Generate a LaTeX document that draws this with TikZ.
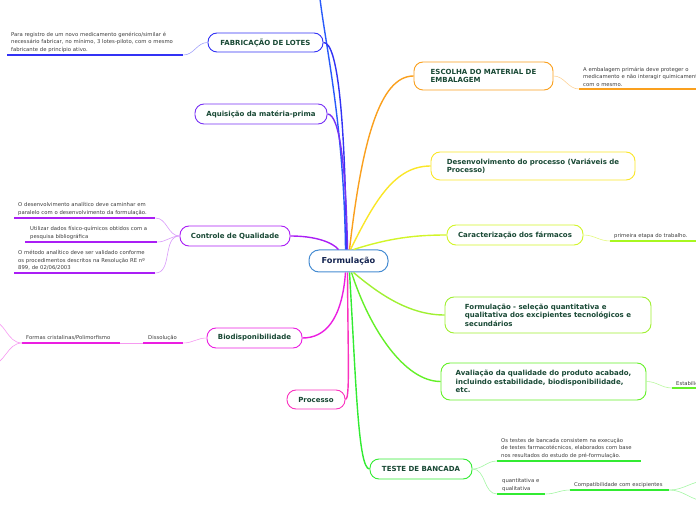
\documentclass[tikz,border=0pt]{standalone}
\usepackage{fontspec}
\setmainfont{DejaVu Sans}
\usetikzlibrary{calc}

\definecolor{txtgreen}{RGB}{24,72,52}
\definecolor{txtnavy}{RGB}{20,36,80}
\definecolor{notegray}{RGB}{60,60,60}
\definecolor{croot}{RGB}{70,140,210}
\definecolor{ctop}{RGB}{40,90,250}
\definecolor{cfab}{RGB}{50,50,245}
\definecolor{caqui}{RGB}{120,50,245}
\definecolor{ccontr}{RGB}{170,30,245}
\definecolor{cbio}{RGB}{235,30,225}
\definecolor{cproc}{RGB}{250,50,190}
\definecolor{cesc}{RGB}{250,160,30}
\definecolor{cdesen}{RGB}{250,230,40}
\definecolor{ccarac}{RGB}{210,245,40}
\definecolor{cselec}{RGB}{160,240,50}
\definecolor{caval}{RGB}{100,240,40}
\definecolor{cteste}{RGB}{50,235,50}

\begin{document}
\begin{tikzpicture}[
    x=1pt, y=1pt,
    topic/.style={draw, line width=0.9pt, rounded corners=9pt, fill=white, text=txtgreen,
        font=\bfseries\fontsize{7}{8.5}\selectfont, align=left, inner sep=0pt},
    root/.style={draw=croot, line width=1pt, rounded corners=10pt, fill=white, text=txtnavy,
        font=\bfseries\fontsize{8.2}{10}\selectfont, minimum width=79pt, minimum height=22pt, inner sep=0pt},
    note/.style={text=notegray, font=\fontsize{5.3}{7.5}\selectfont, align=left,
        inner xsep=4pt, inner ysep=2.5pt, anchor=south west},
    link/.style={line width=1.4pt},
    twig/.style={line width=0.6pt},
    ul/.style={line width=1.4pt}
]
\useasboundingbox (0,0) rectangle (696,520);
\clip (0,0) rectangle (696,520);

% central topic
\node[root] (formula) at (348.5,259) {Formulação};

% main topics, left side
\node[topic, draw=cfab, minimum width=115pt, minimum height=19pt] (fab) at (265.5,477.5) {FABRICAÇÃO DE LOTES};
\node[topic, draw=caqui, minimum width=132pt, minimum height=20pt] (aqui) at (261,406) {Aquisição da matéria-prima};
\node[topic, draw=ccontr, minimum width=110pt, minimum height=20pt] (contr) at (235,284) {Controle de Qualidade};
\node[topic, draw=cbio, minimum width=95pt, minimum height=20pt] (bio) at (254.5,182) {Biodisponibilidade};
\node[topic, draw=cproc, minimum width=58pt, minimum height=19pt] (proc) at (316,120.5) {Processo};

% main topics, right side
\node[topic, draw=cesc, minimum width=139pt, minimum height=28pt] (esc) at (483.5,444) {ESCOLHA DO MATERIAL DE\\EMBALAGEM};
\node[topic, draw=cdesen, minimum width=204pt, minimum height=28pt] (desen) at (533,354) {Desenvolvimento do processo (Variáveis de\\Processo)};
\node[topic, draw=ccarac, minimum width=136pt, minimum height=20pt] (carac) at (515,285) {Caracterização dos fármacos};
\node[topic, draw=cselec, minimum width=206pt, minimum height=36pt] (selec) at (548,205) {Formulação - seleção quantitativa e\\qualitativa dos excipientes tecnológicos e\\secundários};
\node[topic, draw=caval, minimum width=205pt, minimum height=37pt] (aval) at (543.5,138.5) {Avaliação da qualidade do produto acabado,\\incluindo estabilidade, biodisponibilidade,\\etc.};
\node[topic, draw=cteste, minimum width=102pt, minimum height=20pt] (teste) at (421,51) {TESTE DE BANCADA};

% notes
\node[note, text width=168pt] (nfab) at (7,465) {Para registro de um novo medicamento genérico/similar é\\necessário fabricar, no mínimo, 3 lotes-piloto, com o mesmo\\fabricante de princípio ativo.};
\node[note, text width=150pt] (nesc) at (579,431) {A embalagem primária deve proteger o\\medicamento e não interagir quimicamente\\com o mesmo.};
\node[note, text width=92pt] (ncar) at (610,279) {primeira etapa do trabalho.};
\node[note, text width=52pt] (naval) at (672,132) {Estabilidade};
\node[note, text width=133pt] (nc1) at (14,302) {O desenvolvimento analítico deve caminhar em\\paralelo com o desenvolvimento da formulação.};
\node[note, text width=122pt, inner xsep=5pt] (nc2) at (25,278) {Utilizar dados físico-químicos obtidos com a\\pesquisa bibliográfica};
\node[note, text width=133pt] (nc3) at (14,247) {O método analítico deve ser validado conforme\\os procedimentos descritos na Resolução RE nº\\899, de 02/06/2003};
\node[note, text width=30pt, inner xsep=5pt] (ndis) at (143,177) {Dissolução};
\node[note, text width=90pt] (nfor) at (22,177) {Formas cristalinas/Polimorfismo};
\node[note, text width=136pt] (nt1) at (497,59) {Os testes de bancada consistem na execução\\de testes farmacotécnicos, elaborados com base\\nos resultados do estudo de pré-formulação.};
\node[note, text width=38pt, inner xsep=5pt] (nt2) at (497,26) {quantitativa e\\qualitativa};
\node[note, text width=91pt] (ncomp) at (570,30) {Compatibilidade com excipientes};

% loose ends beyond the border
\coordinate (up) at (319,530);
\coordinate (lo1) at (-10,200);
\coordinate (lo2) at (-10,155);
\coordinate (ro1) at (706,39);
\coordinate (ro2) at (706,19);

% underlines
\draw[ul, cfab] (nfab.south west) -- (nfab.south east);
\draw[ul, cesc] (nesc.south west) -- (nesc.south east);
\draw[ul, ccarac!80!green] (ncar.south west) -- (ncar.south east);
\draw[ul, caval] (naval.south west) -- (naval.south east);
\draw[ul, ccontr] (nc1.south west) -- (nc1.south east);
\draw[ul, ccontr] (nc2.south west) -- (nc2.south east);
\draw[ul, ccontr] (nc3.south west) -- (nc3.south east);
\draw[ul, cbio] (ndis.south west) -- (ndis.south east);
\draw[ul, cbio] (nfor.south west) -- (nfor.south east);
\draw[ul, cteste] (nt1.south west) -- (nt1.south east);
\draw[ul, cteste] (nt2.south west) -- (nt2.south east);
\draw[ul, cteste] (ncomp.south west) -- (ncomp.south east);

% branches from the centre
\draw[link, ctop] ($(formula.north)+(-3,0)$) .. controls (344,400) and (324,480) .. (up);
\draw[link, cfab] ($(formula.north)+(-2,0)$) .. controls (345,400) and (338,478) .. (fab.east);
\draw[link, caqui] ($(formula.north)+(-1,0)$) .. controls (346,350) and (340,406) .. (aqui.east);
\draw[link, ccontr] (contr.east) .. controls (315,284) and (332,278) .. ($(formula.north)+(-10,0)$);
\draw[link, cbio] ($(formula.south)+(-3,0)$) .. controls (342,200) and (325,182) .. (bio.east);
\draw[link, cproc] ($(formula.south)+(-1,0)$) .. controls (348,160) and (350,120.5) .. (proc.east);
\draw[link, cesc] ($(formula.north)+(1,0)$) .. controls (362,380) and (380,444) .. (esc.west);
\draw[link, cdesen] ($(formula.north)+(2,0)$) .. controls (375,320) and (395,354) .. (desen.west);
\draw[link, ccarac] ($(formula.north)+(5,0)$) .. controls (390,282) and (415,285) .. (carac.west);
\draw[link, cselec] ($(formula.south)+(5,0)$) .. controls (380,225) and (410,205) .. (selec.west);
\draw[link, caval] ($(formula.south)+(3,0)$) .. controls (370,190) and (405,138.5) .. (aval.west);
\draw[link, cteste] ($(formula.south)+(1,0)$) .. controls (356,140) and (358,51) .. (teste.west);

% branches to the notes
\draw[twig, cfab!45] (fab.west) to[out=180,in=0] (nfab.south east);
\draw[twig, cesc!45] (esc.east) to[out=0,in=180] (nesc.south west);
\draw[twig, ccarac!60] (carac.east) to[out=0,in=180] (ncar.south west);
\draw[twig, caval!45] (aval.east) to[out=0,in=180] (naval.south west);
\draw[twig, ccontr!45] (contr.west) to[out=180,in=0] (nc1.south east);
\draw[twig, ccontr!45] (contr.west) to[out=180,in=0] (nc2.south east);
\draw[twig, ccontr!45] (contr.west) to[out=180,in=0] (nc3.south east);
\draw[twig, cbio!45] (bio.west) to[out=180,in=0] (ndis.south east);
\draw[twig, cbio!45] (ndis.south west) -- (nfor.south east);
\draw[twig, cbio!45] (nfor.south west) to[out=180,in=0] (lo1);
\draw[twig, cbio!45] (nfor.south west) to[out=180,in=0] (lo2);
\draw[twig, cteste!45] (teste.east) to[out=0,in=180] (nt1.south west);
\draw[twig, cteste!45] (teste.east) to[out=0,in=180] (nt2.south west);
\draw[twig, cteste!45] (nt2.south east) to[out=0,in=180] (ncomp.south west);
\draw[twig, cteste!45] (ncomp.south east) to[out=0,in=180] (ro1);
\draw[twig, cteste!45] (ncomp.south east) to[out=0,in=180] (ro2);
\end{tikzpicture}
\end{document}
